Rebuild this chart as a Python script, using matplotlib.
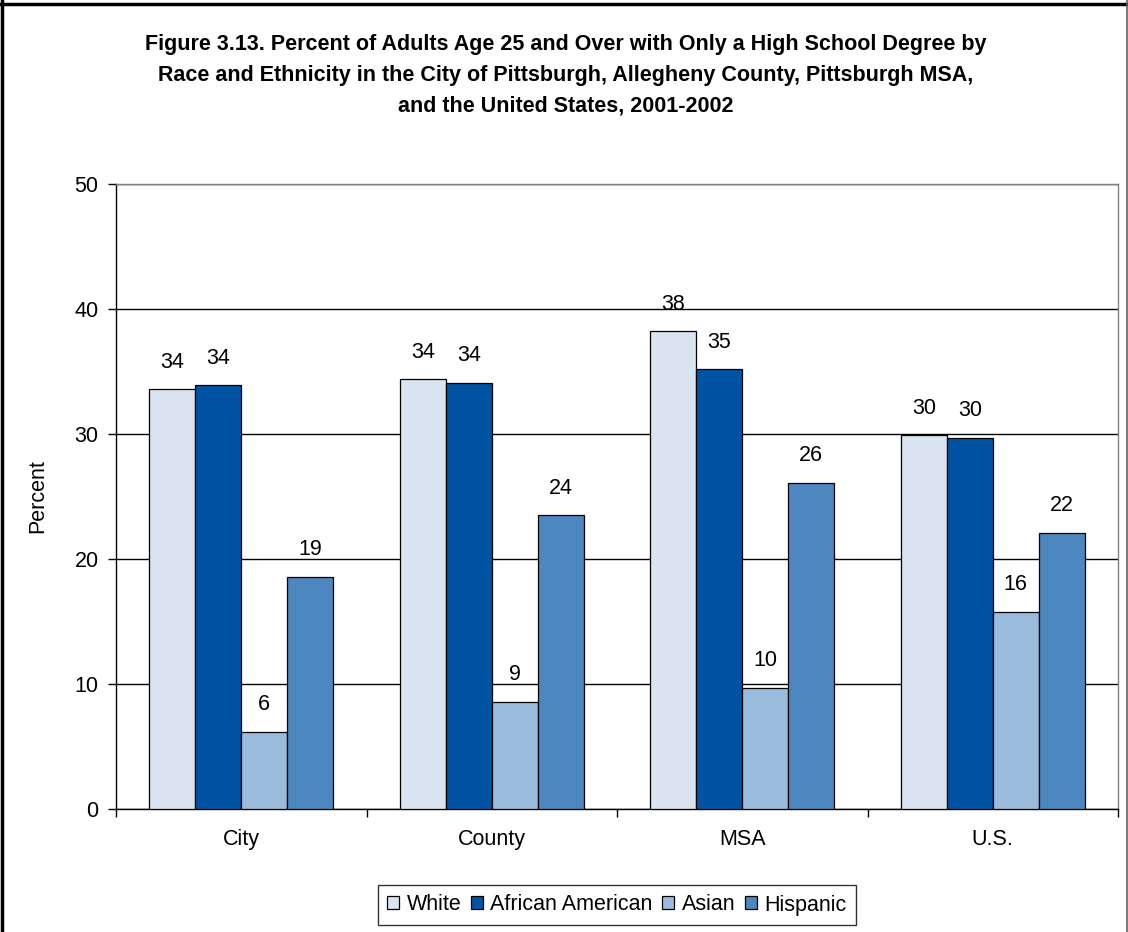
import matplotlib
matplotlib.use("Agg")
import matplotlib.pyplot as plt
import numpy as np
from matplotlib.lines import Line2D

plt.rcParams['font.family'] = ['Liberation Sans', 'DejaVu Sans']

categories = ["City", "County", "MSA", "U.S."]
series_names = ["White", "African American", "Asian", "Hispanic"]
white = [33.6, 34.4, 38.2, 29.9]
african_american = [33.9, 34.1, 35.2, 29.7]
asian = [6.2, 8.6, 9.7, 15.8]
hispanic = [18.6, 23.5, 26.1, 22.1]
labels_white = ["34", "34", "38", "30"]
labels_aa = ["34", "34", "35", "30"]
labels_asian = ["6", "9", "10", "16"]
labels_hisp = ["19", "24", "26", "22"]
colors = ["#DAE4F0", "#0052A2", "#9ABBDC", "#4D87BF"]

title = ("Figure 3.13. Percent of Adults Age 25 and Over with Only a High School Degree by\n"
         "Race and Ethnicity in the City of Pittsburgh, Allegheny County, Pittsburgh MSA,\n"
         "and the United States, 2001-2002")

FS = 15.5
W, H = 1128, 932
fig = plt.figure(figsize=(W / 100, H / 100), dpi=100)
ax = fig.add_axes([116 / W, 1 - 809 / H, (1118 - 116) / W, (809 - 184) / H])

x = np.arange(len(categories))
w = 0.1836
all_series = [white, african_american, asian, hispanic]
all_labels = [labels_white, labels_aa, labels_asian, labels_hisp]
for i, (vals, lab, c, name) in enumerate(zip(all_series, all_labels, colors, series_names)):
    pos = x + (i - 1.5) * w
    ax.bar(pos, vals, width=w, color=c, edgecolor="black", linewidth=0.9, label=name, zorder=3)
    for px, v, t in zip(pos, vals, lab):
        ax.annotate(t, (px, v), xytext=(0, 19.4), textcoords="offset points",
                    ha="center", va="center", fontsize=FS, zorder=4)

ax.set_xlim(-0.5, 3.5)
ax.set_ylim(0, 50)
ax.set_yticks(range(0, 51, 10))
ax.yaxis.grid(True, color="black", linewidth=1, zorder=0)
ax.set_axisbelow(True)
ax.set_xticks(x)
ax.set_xticklabels(categories, fontsize=FS)
ax.set_xticks(np.arange(-0.5, 4.0, 1.0), minor=True)
ax.tick_params(axis="x", which="major", length=0, pad=14.5)
ax.tick_params(axis="x", which="minor", length=6, width=1, direction="out")
ax.tick_params(axis="y", which="major", length=6, width=1, direction="out", labelsize=FS, pad=6.5)
ax.set_ylabel("Percent", fontsize=FS)
ax.yaxis.set_label_coords((48 - 116) / 1002, 0.5)
for s in ["left", "bottom"]:
    ax.spines[s].set_color("black")
    ax.spines[s].set_linewidth(1)
for s in ["top", "right"]:
    ax.spines[s].set_color("#808080")
    ax.spines[s].set_linewidth(1)

fig.text(566 / W, 1 - 75 / H, title, ha="center", va="center", fontsize=FS,
         fontweight="bold", linespacing=1.6)

leg = fig.legend(loc="center", bbox_to_anchor=(617 / W, 1 - 905 / H), ncol=4,
                 fontsize=FS, frameon=True, fancybox=False, handlelength=0.55,
                 handleheight=0.55, handletextpad=0.35, columnspacing=0.45,
                 borderpad=0.45, borderaxespad=0)
leg.get_frame().set_edgecolor("black")
leg.get_frame().set_linewidth(1)

# figure frame (top and left heavy, right light)
fig.add_artist(Line2D([0, 1], [1 - 3.5 / H, 1 - 3.5 / H], transform=fig.transFigure,
                      color="black", linewidth=2.5))
fig.add_artist(Line2D([2 / W, 2 / W], [0, 1], transform=fig.transFigure,
                      color="black", linewidth=2.5))
fig.add_artist(Line2D([1 - 1 / W, 1 - 1 / W], [0, 1], transform=fig.transFigure,
                      color="#606060", linewidth=1.2))

fig.savefig("out.png", dpi=100)
